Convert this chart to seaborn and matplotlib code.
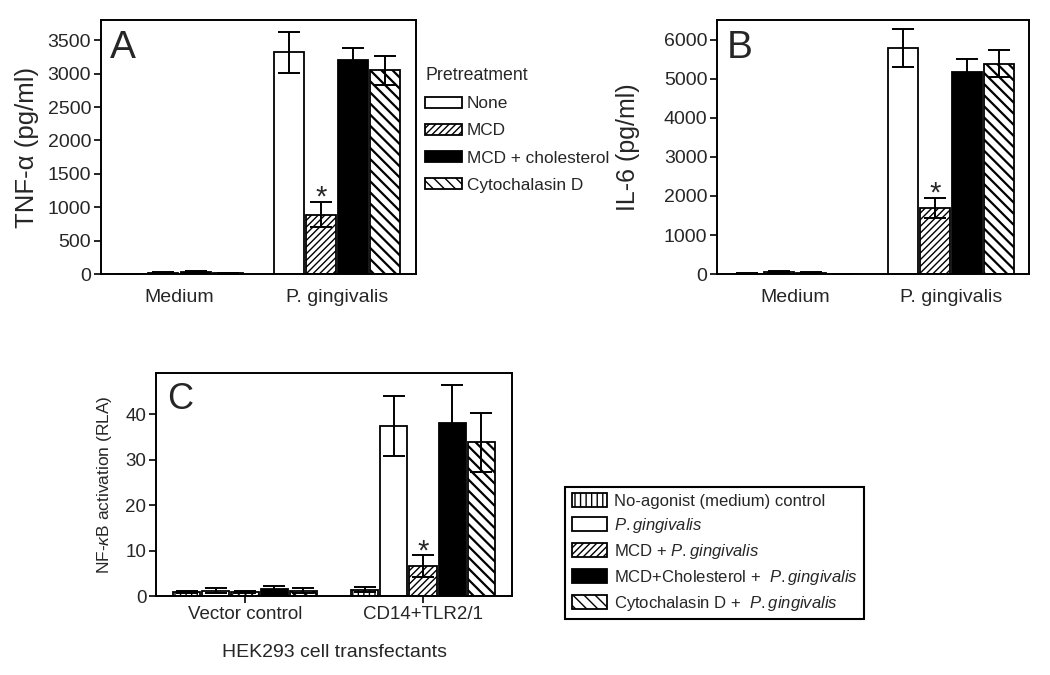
import numpy as np
import pandas as pd
import seaborn as sns
import matplotlib.pyplot as plt
from matplotlib.patches import Patch

# panels A and B: cytokine release
STIMULI = ["Medium", "P. gingivalis"]
PRETREATMENTS = ["None", "MCD", "MCD + cholesterol", "Cytochalasin D"]
# one row per pretreatment, one column per stimulus
TNF_MEAN = [[5, 3320], [20, 890], [30, 3200], [10, 3050]]
TNF_ERR = [[3, 310], [8, 190], [10, 185], [5, 220]]
IL6_MEAN = [[10, 5785], [60, 1690], [30, 5180], [5, 5390]]
IL6_ERR = [[5, 490], [15, 250], [10, 320], [3, 340]]

# panel C: NF-kB reporter
TRANSFECTANTS = ["Vector control", "CD14+TLR2/1"]
TREATMENTS_C = [
    "No-agonist (medium) control",
    r"$\mathit{P.gingivalis}$",
    r"MCD + $\mathit{P.gingivalis}$",
    r"MCD+Cholesterol +  $\mathit{P.gingivalis}$",
    r"Cytochalasin D +  $\mathit{P.gingivalis}$",
]
NFKB_MEAN = [[0.9, 1.4], [1.2, 37.3], [0.9, 6.6], [1.5, 38.1], [1.2, 33.8]]
NFKB_ERR = [[0.2, 0.5], [0.6, 6.6], [0.3, 2.5], [0.6, 8.4], [0.6, 6.5]]

COLORS_AB = ["white", "white", "black", "white"]
HATCHES_AB = ["", "/////", "", "\\\\\\"]
COLORS_C = ["white", "white", "white", "black", "white"]
HATCHES_C = ["|||", "", "/////", "", "\\\\\\"]


def main():
    sns.set_theme(style="ticks")
    plt.rcParams["font.family"] = ["Liberation Sans", "DejaVu Sans"]
    plt.rcParams["mathtext.fontset"] = "custom"
    plt.rcParams["mathtext.rm"] = "Liberation Sans"
    plt.rcParams["mathtext.it"] = "Liberation Sans:italic"
    plt.rcParams["hatch.linewidth"] = 1.0
    plt.rcParams["axes.linewidth"] = 1.4

    fig = plt.figure(figsize=(10.5, 6.75), dpi=100)
    ax_a = fig.add_axes([0.096, 0.594, 0.300, 0.376])
    ax_b = fig.add_axes([0.683, 0.594, 0.297, 0.376])
    ax_c = fig.add_axes([0.1486, 0.117, 0.339, 0.330])

    draw_panel(ax_a, STIMULI, PRETREATMENTS, TNF_MEAN, TNF_ERR, COLORS_AB, HATCHES_AB, star_group=1)
    style_axes(ax_a, "A", "TNF-α (pg/ml)", 3800, np.arange(0, 3501, 500), 14, 18.5, 6)

    draw_panel(ax_b, STIMULI, PRETREATMENTS, IL6_MEAN, IL6_ERR, COLORS_AB, HATCHES_AB, star_group=1)
    style_axes(ax_b, "B", "IL-6 (pg/ml)", 6500, np.arange(0, 6001, 1000), 14, 18, 17)

    draw_panel(ax_c, TRANSFECTANTS, TREATMENTS_C, NFKB_MEAN, NFKB_ERR, COLORS_C, HATCHES_C, star_group=2)
    style_axes(ax_c, "C", r"NF-$\kappa$B activation (RLA)", 49, np.arange(0, 41, 10), 13.5, 12.5, 8.5)
    ax_c.tick_params(axis="x", length=5, width=1.4, pad=2)
    ax_c.set_xlabel("HEK293 cell transfectants", fontsize=14, labelpad=15)

    handles_ab = [Patch(facecolor=c, edgecolor="black", hatch=h, linewidth=1.3)
                  for c, h in zip(COLORS_AB, HATCHES_AB)]
    leg_a = fig.legend(handles_ab, PRETREATMENTS, title="Pretreatment", loc="upper left",
                       bbox_to_anchor=(0.397, 0.913), frameon=False, fontsize=12.4,
                       title_fontsize=12.8, handlelength=2.1, handleheight=0.6,
                       handletextpad=0.3, labelspacing=0.7, borderaxespad=0, borderpad=0.5)
    leg_a._legend_box.align = "left"

    handles_c = [Patch(facecolor=c, edgecolor="black", hatch=h, linewidth=1.3)
                 for c, h in zip(COLORS_C, HATCHES_C)]
    leg_c = fig.legend(handles_c, TREATMENTS_C, loc="upper left", bbox_to_anchor=(0.538, 0.279),
                       frameon=True, fancybox=False, framealpha=1, edgecolor="black",
                       fontsize=12, handlelength=2.1, handleheight=0.85, handletextpad=0.45,
                       labelspacing=0.42, borderaxespad=0, borderpad=0.4)
    leg_c.get_frame().set_linewidth(1.5)

    fig.savefig("out.png", dpi=100)
    plt.close(fig)


def draw_panel(ax, categories, groups, means, errs, colors, hatches, star_group):
    df = pd.DataFrame({
        "category": np.tile(categories, len(groups)),
        "group": np.repeat(groups, len(categories)),
        "value": np.concatenate(means),
    })
    sns.barplot(data=df, x="category", y="value", hue="group", order=categories,
                hue_order=groups, palette=colors, saturation=1, edgecolor="black",
                linewidth=1.3, width=0.82, gap=0.07, errorbar=None, legend=False, ax=ax)

    ymax_top = max(m[1] + e[1] for m, e in zip(means, errs))
    for i, (container, err, hatch) in enumerate(zip(ax.containers, errs, hatches)):
        xs = [bar.get_x() + bar.get_width() / 2 for bar in container]
        ys = [bar.get_height() for bar in container]
        for bar in container:
            bar.set_hatch(hatch)
            if hatch.startswith("\\") and hasattr(bar, "set_hatch_linewidth"):
                bar.set_hatch_linewidth(1.6)
        ax.errorbar(xs, ys, yerr=err, fmt="none", ecolor="black", elinewidth=1.4,
                    capsize=8, capthick=1.4, zorder=5)
        if i == star_group:
            ax.annotate("*", (xs[1], ys[1] + err[1] + 0.05 * ymax_top),
                        xytext=(0, -11), textcoords="offset points",
                        ha="center", va="baseline", fontsize=21)


def style_axes(ax, letter, ylabel, ymax, yticks, tick_fs, label_fs, labelpad):
    ax.set_xlim(-0.5, 1.5)
    ax.set_ylim(0, ymax)
    ax.set_yticks(yticks)
    ax.set_xlabel("")
    ax.set_ylabel(ylabel, fontsize=label_fs, labelpad=labelpad)
    ax.tick_params(axis="y", labelsize=tick_fs, length=5, width=1.4, pad=2)
    ax.tick_params(axis="x", labelsize=tick_fs, length=0, pad=11)
    for side in ["top", "right", "left", "bottom"]:
        ax.spines[side].set_visible(True)
        ax.spines[side].set_color("black")
    ax.text(0.03, 0.96, letter, transform=ax.transAxes, ha="left", va="top",
            fontsize=28 if letter != "C" else 26)


if __name__ == "__main__":
    main()
